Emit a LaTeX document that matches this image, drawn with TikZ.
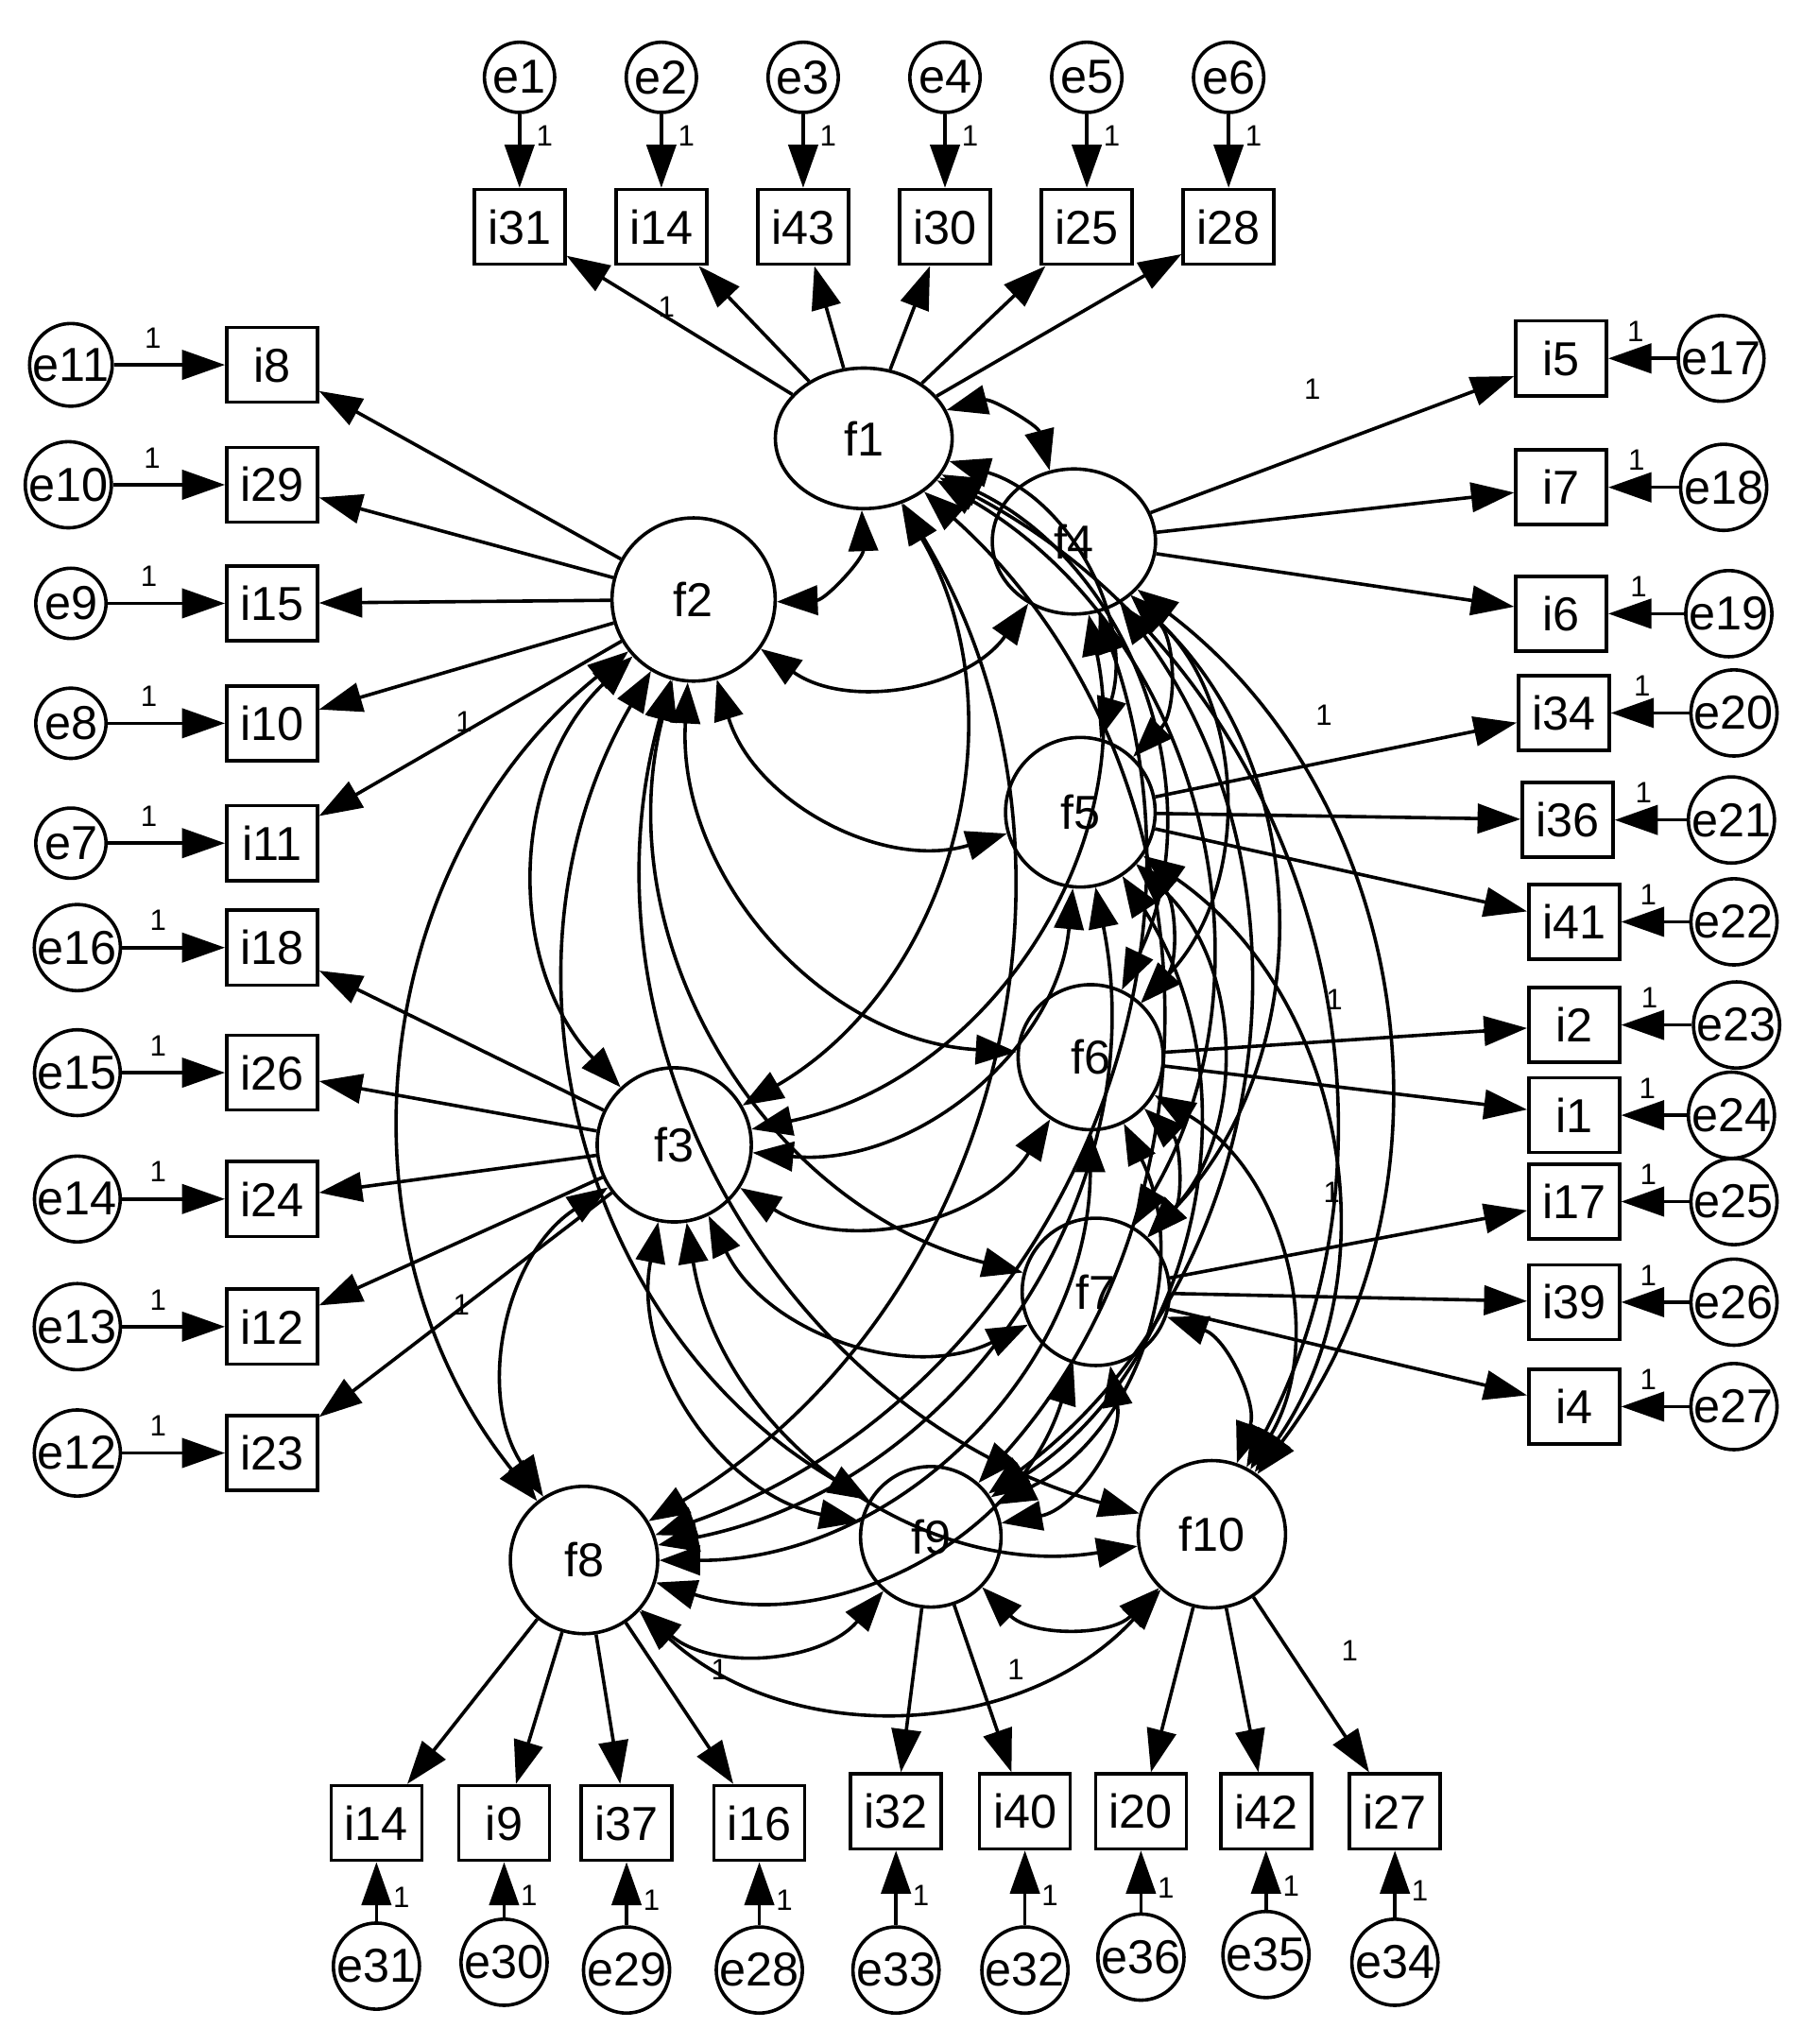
\documentclass[tikz,border=0pt]{standalone}
\usepackage{fontspec}
\setmainfont{Liberation Sans}
\usetikzlibrary{arrows.meta,shapes.geometric}
\begin{document}
\begin{tikzpicture}[x=0.01cm,y=-0.01cm,
 tip/.style={-{Triangle[length=9.5pt,width=6.5pt]}},
 cov/.style={{Triangle[length=9pt,width=6.5pt]}-{Triangle[length=9pt,width=6.5pt]}},
 ob/.style={draw,minimum width=20pt,minimum height=16.5pt,inner sep=1pt,font=\fontsize{10.5}{10.5}\selectfont},
 er/.style={draw,circle,minimum size=15.5pt,inner sep=0pt,font=\fontsize{10.5}{10.5}\selectfont},
 lat/.style={draw,circle,inner sep=0pt,font=\fontsize{10.5}{10.5}\selectfont},
 one/.style={font=\fontsize{6.5}{6.5}\selectfont},
 every path/.style={line width=0.75pt}]
\useasboundingbox (0,0) rectangle (1411,1573);
% latent
\node[lat,ellipse,minimum width=39pt,minimum height=31pt] (f1) at (670,340) {f1};
\node[lat,ellipse,minimum width=36pt,minimum height=32pt] (f4) at (833,420) {f4};
\node[lat,minimum size=36pt] (f2) at (538,465) {f2};
\node[lat,minimum size=33pt] (f5) at (838,630) {f5};
\node[lat,minimum size=32pt] (f6) at (846,820) {f6};
\node[lat,minimum size=34pt] (f3) at (523,888) {f3};
\node[lat,minimum size=32.5pt] (f7) at (850,1002) {f7};
\node[lat,minimum size=32.5pt] (f8) at (453,1210) {f8};
\node[lat,minimum size=31pt] (f9) at (722,1192) {f9};
\node[lat,minimum size=32.5pt] (f10) at (940,1190) {f10};
% top
\foreach \i/\b/\e/\x in {a/i31/e1/403,b/i14/e2/513,c/i43/e3/623,d/i30/e4/733,e/i25/e5/843,f/i28/e6/953}{
 \node[er] (E\e) at (\x,60) {\e};
 \node[ob] (B\i) at (\x,176) {\b};
 \draw[tip] (E\e) -- node[one,right,pos=0.3]{1} (B\i);
 \draw[tip] (f1) -- (B\i);}
\node[one] at (517,238) {1};
% left
\foreach \i/\b/\e/\y/\ex/\f in {g/i8/e11/283/55/f2,h/i29/e10/376/53/f2,k/i15/e9/468/55/f2,l/i10/e8/561/55/f2,m/i11/e7/654/55/f2,n/i18/e16/735/60/f3,o/i26/e15/832/60/f3,p/i24/e14/930/60/f3,q/i12/e13/1029/60/f3,r/i23/e12/1127/60/f3}{
 \node[er] (E\e) at (\ex,\y) {\e};
 \node[ob] (B\i) at (211,\y) {\b};
 \draw[tip] (E\e) -- node[one,above,pos=0.35]{1} (B\i);
 \draw[tip] (\f) -- (B\i);}
\node[one] at (360,560) {1};
\node[one] at (358,1012) {1};
% right
\foreach \i/\b/\e/\y/\bx/\ex/\f in {s/i5/e17/278/1211/1335/f4,t/i7/e18/378/1211/1337/f4,u/i6/e19/476/1211/1341/f4,v/i34/e20/553/1213/1345/f5,w/i36/e21/636/1216/1343/f5,xa/i41/e22/715/1221/1345/f5,xb/i2/e23/795/1221/1347/f6,xc/i1/e24/865/1221/1343/f6,xd/i17/e25/932/1221/1345/f7,xe/i39/e26/1010/1221/1345/f7,xf/i4/e27/1091/1221/1345/f7}{
 \node[er] (E\e) at (\ex,\y) {\e};
 \node[ob] (B\i) at (\bx,\y) {\b};
 \draw[tip] (E\e) -- node[one,above,pos=0.6]{1} (B\i);
 \draw[tip] (\f) -- (B\i);}
\node[one] at (1018,302) {1};
\node[one] at (1027,555) {1};
\node[one] at (1035,775) {1};
\node[one] at (1033,925) {1};
% bottom
\foreach \i/\b/\e/\x/\ey/\by/\f in {ya/i14/e31/292/1525/1414/f8,yb/i9/e30/391/1522/1414/f8,yc/i37/e29/486/1528/1414/f8,yd/i16/e28/589/1528/1414/f8,ye/i32/e33/695/1528/1405/f9,yf/i40/e32/795/1528/1405/f9,yg/i20/e36/885/1518/1405/f10,yh/i42/e35/982/1516/1405/f10,yi/i27/e34/1082/1522/1405/f10}{
 \node[er] (E\e) at (\x,\ey) {\e};
 \node[ob] (B\i) at (\x,\by) {\b};
 \draw[tip] (E\e) -- node[one,right,pos=0.4]{1} (B\i);
 \draw[tip] (\f) -- (B\i);}
\node[one] at (558,1295) {1};
\node[one] at (788,1295) {1};
\node[one] at (1047,1280) {1};
% covariances
\foreach \a/\b in {f1/f4,f1/f5,f1/f6,f1/f7,f1/f10,f1/f9,f1/f8,f1/f3,f1/f2,
 f4/f5,f4/f6,f4/f7,f4/f10,f4/f9,f4/f8,f4/f3,f4/f2,
 f5/f6,f5/f7,f5/f10,f5/f9,f5/f8,f5/f3,f5/f2,
 f6/f7,f6/f10,f6/f9,f6/f8,f6/f3,f6/f2,
 f7/f10,f7/f9,f7/f8,f7/f3,f7/f2,
 f10/f9,f10/f8,f10/f3,f10/f2,
 f9/f8,f9/f3,f9/f2,
 f8/f3,f8/f2,
 f3/f2}
 \draw[cov] (\a) to[bend left=45] (\b);
\end{tikzpicture}
\end{document}
